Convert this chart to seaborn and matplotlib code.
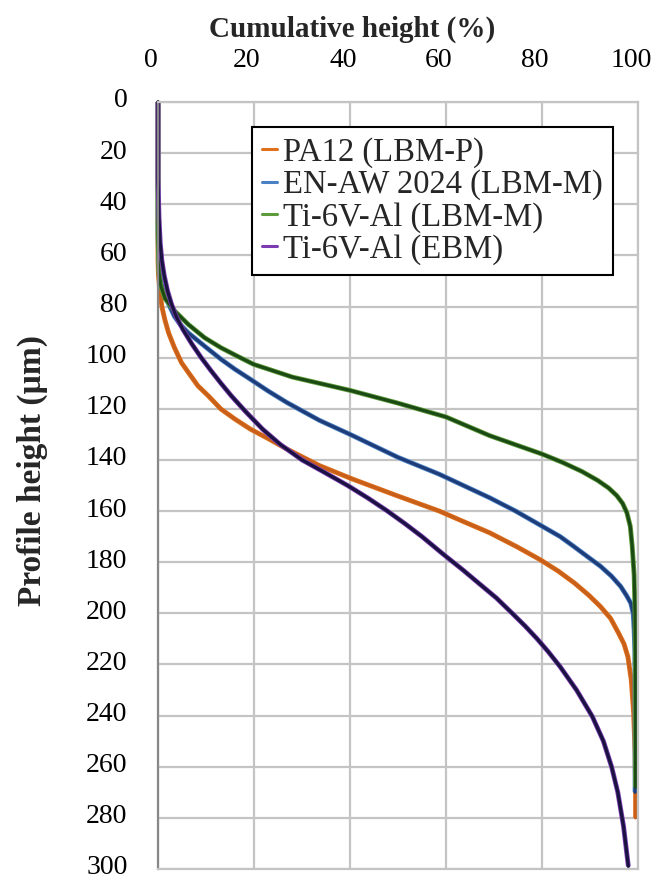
import matplotlib
matplotlib.use("Agg")
import matplotlib.pyplot as plt
import matplotlib.patheffects as pe
import matplotlib.transforms as mtransforms
from matplotlib.lines import Line2D
import seaborn as sns
import pandas as pd

# ---- data ----
series_names = ["PA12 (LBM-P)", "EN-AW 2024 (LBM-M)", "Ti-6V-Al (LBM-M)", "Ti-6V-Al (EBM)"]

pa12_height = [0, 62, 68, 74, 80, 85, 90.3, 96, 102, 106, 111, 115, 120.1, 124, 127.9, 131.5,
               135.7, 142.2, 147.4, 154, 160, 164, 168.5, 174, 179, 183.5, 188.2, 193, 197.4,
               202, 207.9, 212, 217, 226, 239, 255, 270, 280]
pa12_cum = [0, 0, 0.1, 0.4, 0.8, 1.4, 2.2, 3.4, 4.9, 6.4, 8.3, 10.5, 13.1, 16, 19.2, 22.8,
            26.8, 33.6, 40.4, 49.8, 58.6, 63.5, 69.1, 74.8, 79.6, 83.4, 86.8, 89.8, 92.2,
            94.3, 96.0, 97.1, 97.9, 98.6, 99.1, 99.4, 99.5, 99.5]

enaw_height = [0, 50, 60, 66, 71, 75, 79, 83.8, 87, 90.3, 95.5, 100.6, 104.5, 108.4, 113, 117.5,
               124.5, 130, 139, 145.6, 154.8, 160, 165.9, 170, 173.8, 178, 181.6, 185.5, 189.5,
               193, 196, 200, 206.6, 215, 240, 270]
enaw_cum = [0, 0, 0.1, 0.3, 0.7, 1.3, 2.2, 3.4, 4.6, 6.3, 9.7, 13.1, 16, 19.2, 22.9, 26.8,
            33.6, 40, 50, 58.6, 69.1, 74.5, 80, 83.8, 86.6, 89.6, 92.2, 94.5, 96.4,
            97.6, 98.5, 99.0, 99.2, 99.35, 99.4, 99.4]

tilbm_height = [0, 40, 55, 67, 72, 77, 81.8, 87, 92.2, 96.1, 99.4, 102.6, 107.6, 112.8, 117.8,
                123.2, 130.5, 137.7, 141, 144.5, 148, 151, 154, 157, 160.7, 166, 173.8, 185,
                200, 230, 268]
tilbm_cum = [0, 0, 0.05, 0.2, 0.6, 1.5, 3.5, 6.3, 9.7, 13.1, 16.5, 19.9, 28, 40, 50,
             60, 69.1, 80, 84.3, 88.3, 91.6, 93.9, 95.6, 96.8, 97.7, 98.4, 98.8, 99.2,
             99.4, 99.5, 99.5]

tiebm_height = [0, 30, 45, 55, 62, 68, 74, 79, 84, 89, 94.5, 100, 105, 110, 115, 121, 128, 134,
                140, 145, 150, 155, 160, 165, 170, 177, 183, 188.2, 194, 200, 205, 210, 215,
                220.8, 230, 240.4, 250, 260, 270, 283.4, 299]
tiebm_cum = [0, 0, 0.2, 0.45, 0.8, 1.3, 2, 2.8, 3.8, 5.2, 7, 9, 11, 13.1, 15.3, 18.2, 21.8, 25.5,
             30, 34.8, 39.5, 43.8, 47.8, 51.5, 55, 59.5, 63.5, 66.8, 70.5, 73.8, 76.5, 79,
             81.3, 83.75, 87.2, 90.5, 92.8, 94.5, 95.8, 97, 98]

x_ticks = [0, 20, 40, 60, 80, 100]
y_ticks = list(range(0, 301, 20))

# ---- styles ----
edge_colors = ["#e0701c", "#4a80c4", "#5c9a3a", "#7a3cb0"]
core_colors = ["#c8601a", "#1e3c78", "#1b4a14", "#1a1240"]

sns.set_theme(style="white")
plt.rcParams["font.family"] = ["Liberation Serif", "DejaVu Serif"]

fig = plt.figure(figsize=(6.62, 8.76), dpi=100)
ax = fig.add_axes([0.2387, 0.008, 0.725, 0.8756])

frames = [
    pd.DataFrame({"cum": pa12_cum, "height": pa12_height}),
    pd.DataFrame({"cum": enaw_cum, "height": enaw_height}),
    pd.DataFrame({"cum": tilbm_cum, "height": tilbm_height}),
    pd.DataFrame({"cum": tiebm_cum, "height": tiebm_height}),
]

for df, ec, cc in zip(frames, edge_colors, core_colors):
    sns.lineplot(data=df, x="cum", y="height", sort=False, estimator=None, ax=ax,
                 color=cc, linewidth=2.3, clip_on=False,
                 path_effects=[pe.Stroke(linewidth=3.5, foreground=ec, joinstyle="round",
                                         capstyle="butt"), pe.Normal()])

ax.set_xlim(0, 100)
ax.set_ylim(300, 0)
ax.set_xticks(x_ticks)
ax.set_yticks(y_ticks)
ax.xaxis.tick_top()
ax.xaxis.set_label_position("top")
ax.tick_params(axis="both", length=0, labelsize=20, colors="black")
ax.tick_params(axis="x", pad=21)
ax.tick_params(axis="y", pad=22)

# small leftward shift of the x tick labels, as in the reference
shift = mtransforms.ScaledTranslation(-7 / 100, 0, fig.dpi_scale_trans)
for lbl in ax.get_xticklabels():
    lbl.set_transform(lbl.get_transform() + shift)
# keep the bottom label inside the figure
up = mtransforms.ScaledTranslation(0, 4 / 100, fig.dpi_scale_trans)
for lbl in ax.get_yticklabels():
    lbl.set_transform(lbl.get_transform() + up)

grid_c = "#c4c4c4"
ax.grid(True, color=grid_c, linewidth=1.6)
ax.set_axisbelow(True)
for s in ax.spines.values():
    s.set_color(grid_c)
    s.set_linewidth(1.6)
ax.spines["left"].set_color("#888888")

ax.set_xlabel("Cumulative height (%)", fontsize=21, fontweight="bold")
ax.xaxis.set_label_coords(0.404, 1.085)
ax.set_ylabel("Profile height (µm)", fontsize=24, fontweight="bold")
ax.yaxis.set_label_coords(-0.23, 0.52)

handles = [Line2D([0], [0], color=c, linewidth=2.2) for c in edge_colors]
leg = ax.legend(handles, series_names, loc="upper left", bbox_to_anchor=(0.196, 0.967),
                borderaxespad=0, fontsize=23.5, handlelength=0.45, handletextpad=0.2,
                labelspacing=0.05, frameon=True, fancybox=False, framealpha=1,
                borderpad=0.3)
leg.get_frame().set_edgecolor("black")
leg.get_frame().set_linewidth(1.5)

fig.savefig("out.png", dpi=100)
